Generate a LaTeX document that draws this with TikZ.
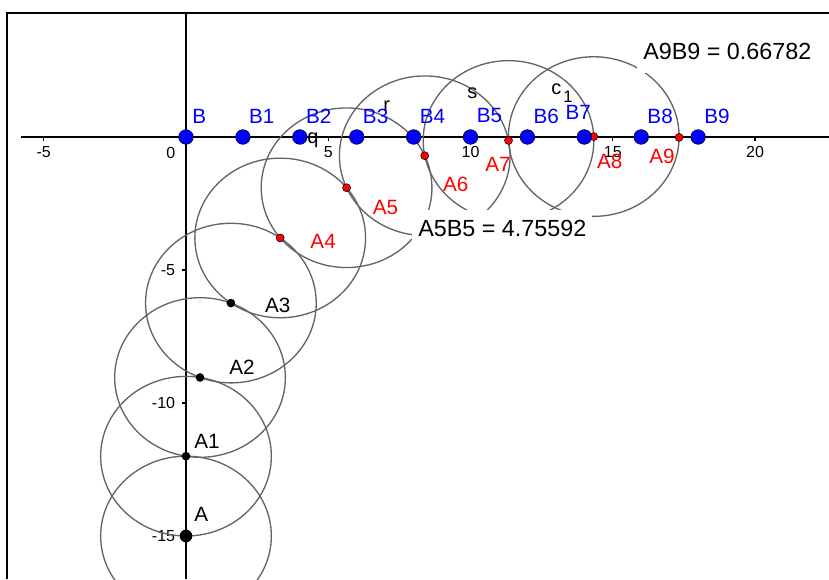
\documentclass[tikz,border=0pt]{standalone}
\usepackage{fontspec}
\setmainfont{Liberation Sans}
\usetikzlibrary{positioning, calc}

\definecolor{ptblue}{RGB}{0,0,255}
\definecolor{ptred}{RGB}{255,0,0}
\definecolor{circgray}{RGB}{100,100,100}

\begin{document}
\begin{tikzpicture}[x=21.3375pt, y=19.95pt,
    circ/.style={draw=circgray, line width=1pt},
    axis/.style={line width=0.9pt},
    bpt/.style={circle, draw=black, line width=0.4pt, fill=ptblue, inner sep=0pt, minimum size=11pt},
    redpt/.style={circle, draw=black, line width=0.4pt, fill=ptred, inner sep=0pt, minimum size=6pt},
    blkpt/.style={circle, fill=black, inner sep=0pt, minimum size=6.5pt},
    bluelbl/.style={text=ptblue, anchor=west, inner sep=0pt, font=\fontsize{15.5}{18}\selectfont},
    redlbl/.style={bluelbl, text=ptred},
    blklbl/.style={bluelbl, text=black},
    circlbl/.style={anchor=base west, inner sep=0pt, font=\fontsize{15}{18}\selectfont},
    ticklbl/.style={inner sep=0pt, font=\fontsize{12}{14}\selectfont},
    valbox/.style={fill=white, anchor=base west, inner xsep=4.5pt, inner ysep=0pt,
                   text height=20pt, text depth=9.75pt, font=\fontsize{17.5}{21}\selectfont}
]

    % --- Canvas ---
    \useasboundingbox (-6.538,-16.617) rectangle (22.601,5.150);

    % --- Frame (left and top edges only) ---
    \coordinate (fTL) at (-6.292,4.662);
    \coordinate (fBL) at (-6.292,-16.617);
    \coordinate (fTR) at (22.601,4.662);
    \draw[line width=2pt] (fBL) -- (fTL) -- (fTR);

    % --- Axes ---
    \coordinate (xL) at (-5.80,0);
    \coordinate (xR) at (22.601,0);
    \coordinate (yT) at (0,4.662);
    \coordinate (yB) at (0,-16.617);
    \draw[axis] (xL) -- (xR);
    \draw[axis] (yT) -- (yB);

    % x ticks and labels
    \draw[axis] (-5,0) -- ++(0,-3pt);
    \draw[axis] (5,0) -- ++(0,-3pt);
    \draw[axis] (10,0) -- ++(0,-3pt);
    \draw[axis] (15,0) -- ++(0,-3pt);
    \draw[axis] (20,0) -- ++(0,-3pt);
    \node[ticklbl, yshift=-11.5pt] (txm5) at (-5,0) {-5};
    \node[ticklbl, anchor=east, xshift=-7.8pt, yshift=-12.2pt] (tx0) at (0,0) {0};
    \node[ticklbl, yshift=-11.5pt] (tx5) at (5,0) {5};
    \node[ticklbl, yshift=-11.5pt] (tx10) at (10,0) {10};
    \node[ticklbl, yshift=-11.5pt] (tx15) at (15,0) {15};
    \node[ticklbl, yshift=-11.5pt] (tx20) at (20,0) {20};

    % y ticks and labels
    \draw[axis] (0,-5) -- ++(-3pt,0);
    \draw[axis] (0,-10) -- ++(-3pt,0);
    \draw[axis] (0,-15) -- ++(-3pt,0);
    \node[ticklbl, anchor=east, xshift=-8pt] (tym5) at (0,-5) {-5};
    \node[ticklbl, anchor=east, xshift=-8pt] (tym10) at (0,-10) {-10};
    \node[ticklbl, anchor=east, xshift=-8pt] (tym15) at (0,-15) {-15};

    % --- Pursuer A steps 3 towards B each time ---
    \coordinate (A)  at (0,-15);
    \coordinate (A1) at (0,-12);
    \coordinate (A2) at (0.493,-9.041);
    \coordinate (A3) at (1.578,-6.244);
    \coordinate (A4) at (3.312,-3.796);
    \coordinate (A5) at (5.644,-1.908);
    \coordinate (A6) at (8.392,-0.704);
    \coordinate (A7) at (11.336,-0.130);
    \coordinate (A8) at (14.332,0.016);
    \coordinate (A9) at (17.332,-0.013);

    % --- B moves 2 along the x axis ---
    \coordinate (B)  at (0,0);
    \coordinate (B1) at (2,0);
    \coordinate (B2) at (4,0);
    \coordinate (B3) at (6,0);
    \coordinate (B4) at (8,0);
    \coordinate (B5) at (10,0);
    \coordinate (B6) at (12,0);
    \coordinate (B7) at (14,0);
    \coordinate (B8) at (16,0);
    \coordinate (B9) at (18,0);

    % --- Circles of radius 3 ---
    \draw[circ] (A)  circle [radius=3];
    \draw[circ] (A1) circle [radius=3];
    \draw[circ] (A2) circle [radius=3];
    \draw[circ] (A3) circle [radius=3];
    \draw[circ] (A4) circle [radius=3];
    \draw[circ] (A5) circle [radius=3];
    \draw[circ] (A6) circle [radius=3];
    \draw[circ] (A7) circle [radius=3];
    \draw[circ] (A8) circle [radius=3];

    % circle names
    \node[circlbl] (nq) at (4.253,-0.226) {q};
    \node[circlbl] (nr) at (6.924,0.940) {r};
    \node[circlbl] (ns) at (9.877,1.429) {s};
    \node[circlbl] (nc) at (12.830,1.579) {c\hspace{1.5pt}\raisebox{-6pt}{\fontsize{12.5}{14}\selectfont 1}};

    % --- Distance texts ---
    \node[valbox] (dA5B5) at (7.944,-3.759) {A5B5 = 4.75592};
    \node[valbox] (dA9B9) at (15.852,2.895) {A9B9 = 0.66782};

    % --- Points ---
    \node[blkpt, minimum size=9.5pt] (pA) at (A) {};
    \node[blkpt] (pA1) at (A1) {};
    \node[blkpt] (pA2) at (A2) {};
    \node[blkpt] (pA3) at (A3) {};
    \node[redpt] (pA4) at (A4) {};
    \node[redpt] (pA5) at (A5) {};
    \node[redpt] (pA6) at (A6) {};
    \node[redpt] (pA7) at (A7) {};
    \node[redpt] (pA8) at (A8) {};
    \node[redpt] (pA9) at (A9) {};

    \node[bpt] (pB)  at (B)  {};
    \node[bpt] (pB1) at (B1) {};
    \node[bpt] (pB2) at (B2) {};
    \node[bpt] (pB3) at (B3) {};
    \node[bpt] (pB4) at (B4) {};
    \node[bpt] (pB5) at (B5) {};
    \node[bpt] (pB6) at (B6) {};
    \node[bpt] (pB7) at (B7) {};
    \node[bpt] (pB8) at (B8) {};
    \node[bpt] (pB9) at (B9) {};

    % --- Point labels ---
    \node[blklbl, xshift=6pt, yshift=16.1pt] (lA) at (A) {A};
    \node[blklbl, xshift=6pt, yshift=11pt] (lA1) at (A1) {A1};
    \node[blklbl, xshift=21.75pt, yshift=7.5pt] (lA2) at (A2) {A2};
    \node[blklbl, xshift=25.5pt, yshift=-1.5pt] (lA3) at (A3) {A3};
    \node[redlbl, xshift=22.5pt, yshift=-2.6pt] (lA4) at (A4) {A4};
    \node[redlbl, xshift=19.5pt, yshift=-15pt] (lA5) at (A5) {A5};
    \node[redlbl, xshift=13.5pt, yshift=-21.75pt] (lA6) at (A6) {A6};
    \node[redlbl, xshift=-17.6pt, yshift=-18pt] (lA7) at (A7) {A7};
    \node[redlbl, xshift=2.25pt, yshift=-18.75pt] (lA8) at (A8) {A8};
    \node[redlbl, xshift=-22.5pt, yshift=-14.25pt] (lA9) at (A9) {A9};

    \node[bluelbl, xshift=4.5pt, yshift=15.75pt] (lB) at (B) {B};
    \node[bluelbl, xshift=4.5pt, yshift=15.75pt] (lB1) at (B1) {B1};
    \node[bluelbl, xshift=4.5pt, yshift=15.75pt] (lB2) at (B2) {B2};
    \node[bluelbl, xshift=4.5pt, yshift=15.75pt] (lB3) at (B3) {B3};
    \node[bluelbl, xshift=4.5pt, yshift=15.75pt] (lB4) at (B4) {B4};
    \node[bluelbl, xshift=4.5pt, yshift=15.75pt] (lB5) at (B5) {B5};
    \node[bluelbl, xshift=4.5pt, yshift=15.75pt] (lB6) at (B6) {B6};
    \node[bluelbl, xshift=-14.25pt, yshift=18.4pt] (lB7) at (B7) {B7};
    \node[bluelbl, xshift=4.5pt, yshift=15.75pt] (lB8) at (B8) {B8};
    \node[bluelbl, xshift=4.5pt, yshift=15.75pt] (lB9) at (B9) {B9};

\end{tikzpicture}
\end{document}
